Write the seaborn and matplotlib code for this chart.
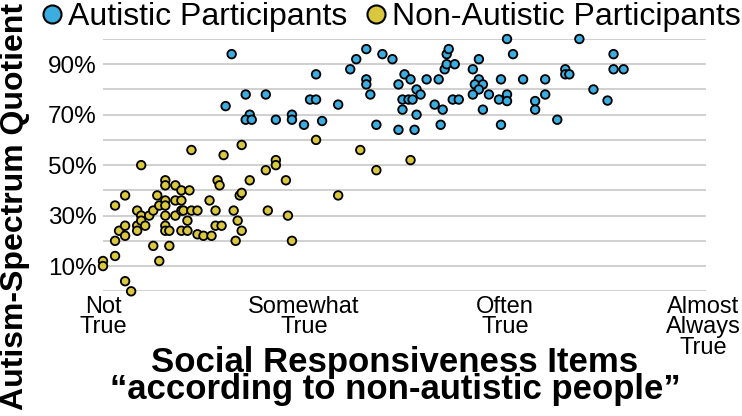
import matplotlib
matplotlib.use("Agg")
import matplotlib.pyplot as plt
import matplotlib.transforms as mtransforms
from matplotlib.lines import Line2D
import seaborn as sns
import pandas as pd

# ---- data ----
aut_x = [0.64, 0.61, 0.71, 0.81, 0.73, 0.71, 0.74, 0.86, 0.94, 0.94, 1.00, 1.03, 1.06, 1.06,
         1.09, 1.17, 1.23, 1.26, 1.31, 1.31, 1.31, 1.33, 1.36, 1.39, 1.44, 1.47, 1.47, 1.50,
         1.49, 1.49, 1.52, 1.54, 1.53, 1.56, 1.56, 1.58, 1.55, 1.61, 1.65, 1.67, 1.68, 1.69,
         1.70, 1.71, 1.71, 1.72, 1.75, 1.74, 1.77, 1.84, 1.87, 1.87, 1.85, 1.89, 1.87, 1.84,
         1.92, 1.89, 1.98, 1.97, 2.01, 2.01, 1.98, 2.01, 2.04, 2.09, 2.15, 2.15, 2.20, 2.20,
         2.26, 2.30, 2.30, 2.32, 2.37, 2.44, 2.51, 2.54, 2.54, 2.59]
aut_y = [94, 73.4, 78, 78, 70, 68, 68, 68, 70, 68, 66, 76, 76, 86,
         67.5, 74, 88, 92, 96, 84, 82, 78, 66, 94, 92, 82, 64, 86,
         76, 72, 76, 76, 84, 80, 70, 78, 64, 84, 74, 84, 66, 72,
         88, 90, 94, 96, 90, 76, 76, 88, 92, 84, 82, 82, 80, 78,
         78, 72, 84, 76, 78, 75.4, 66, 100, 94, 84, 75.4, 72, 84, 78,
         68, 88, 86, 86, 100, 80, 75.6, 94, 88, 88]

non_x = [0.0, 0.0, 0.06, 0.06, 0.06, 0.08, 0.11, 0.11, 0.11, 0.11, 0.14, 0.17, 0.17, 0.17,
         0.19, 0.19, 0.19, 0.21, 0.23, 0.25, 0.25, 0.27, 0.28, 0.28, 0.31, 0.31, 0.31, 0.31,
         0.31, 0.31, 0.31, 0.33, 0.33, 0.36, 0.36, 0.36, 0.39, 0.39, 0.39, 0.39, 0.40, 0.42,
         0.42, 0.43, 0.44, 0.44, 0.47, 0.47, 0.50, 0.53, 0.54, 0.56, 0.56, 0.57, 0.58, 0.59,
         0.60, 0.65, 0.66, 0.67, 0.68, 0.69, 0.69, 0.69, 0.73, 0.81, 0.82, 0.86, 0.86, 0.91,
         0.92, 0.94, 1.06, 1.17, 1.28, 1.36, 1.53]
non_y = [12, 10, 34, 20, 14, 24, 38, 26, 22, 4, 0, 32, 26, 24,
         50, 30, 28, 26, 30, 32, 18, 38, 34, 12, 44, 42, 36, 34,
         30, 26, 24, 24, 18, 42, 36, 30, 40, 36, 32, 24, 32, 28,
         24, 40, 32, 56, 32, 22.6, 22, 36, 22, 32, 26, 44, 42, 26,
         54, 32, 20, 28, 38, 39, 24, 58, 44, 48, 32, 52, 50, 44,
         30, 20, 60, 38, 56, 48, 52]

groups = ["Autistic Participants", "Non-Autistic Participants"]
x_ticks = [0, 1, 2, 3]
x_labels = ["Not\nTrue", "Somewhat\nTrue", "Often\nTrue", "Almost\nAlways\nTrue"]
y_ticks = [10, 30, 50, 70, 90]
y_labels = ["10%", "30%", "50%", "70%", "90%"]

colors = {groups[0]: "#3CADE0", groups[1]: "#D9C73E"}

df = pd.DataFrame({
    "srs": aut_x + non_x,
    "aq": aut_y + non_y,
    "group": [groups[0]] * len(aut_x) + [groups[1]] * len(non_x),
})

sns.set_style("white")
plt.rcParams["font.family"] = ["Liberation Sans", "DejaVu Sans"]
plt.rcParams["text.color"] = "black"
plt.rcParams["xtick.color"] = "black"
plt.rcParams["ytick.color"] = "black"

fig = plt.figure(figsize=(7.42, 4.16), dpi=100)
ax = fig.add_axes([103 / 742, 1 - 291.3 / 416, 603 / 742, (291.3 - 39) / 416])

sns.scatterplot(data=df, x="srs", y="aq", hue="group", palette=colors,
                s=38, edgecolor="black", linewidth=1.3, legend=False,
                ax=ax, zorder=3, clip_on=False)

ax.set_xlim(0, 3)
ax.set_ylim(0, 100)
ax.set_yticks(y_ticks)
ax.set_yticks(range(0, 101, 10), minor=True)
ax.set_yticklabels(y_labels)
ax.set_xticks(x_ticks)
ax.set_xticklabels(x_labels)
ax.grid(False)
ax.yaxis.grid(True, which="both", color="#c8c8c8", linewidth=1.2)
ax.set_axisbelow(True)
for s in ax.spines.values():
    s.set_visible(False)
ax.tick_params(axis="y", which="both", length=0, pad=4.5, labelsize=17.5, labelcolor="black")
ax.tick_params(axis="x", length=0, pad=3.5, labelsize=17, labelcolor="black")
xtl = ax.get_xticklabels()
for lbl in xtl:
    lbl.set_linespacing(0.9)
    lbl.set_verticalalignment("top")
xtl[-1].set_transform(xtl[-1].get_transform() +
                      mtransforms.ScaledTranslation(-3 / 100, 0, fig.dpi_scale_trans))

ax.set_xlabel("")
ax.set_ylabel("")

fig.text(395 / 742, 1 - 346 / 416, "Social Responsiveness Items\n\u201caccording to non-autistic people\u201d",
         ha="center", va="top", fontsize=25, fontweight="bold", linespacing=0.75, color="black")
fig.text(15 / 742, 1 - 207 / 416, "Autism-Spectrum Quotient", rotation=90,
         ha="center", va="center", fontsize=23, fontweight="bold", color="black")

handles = [Line2D([0], [0], marker="o", linestyle="", markersize=13,
                  markerfacecolor=colors[g], markeredgecolor="black",
                  markeredgewidth=1.5) for g in groups]
leg = fig.legend(handles, groups, loc="center left", bbox_to_anchor=(38 / 742, 1 - 17.5 / 416),
                 ncol=2, frameon=False, fontsize=23, handlelength=0.9, handletextpad=0.05,
                 columnspacing=0.45, borderpad=0, borderaxespad=0)
for t in leg.get_texts():
    t.set_color("black")

fig.savefig("out.png", dpi=100)
